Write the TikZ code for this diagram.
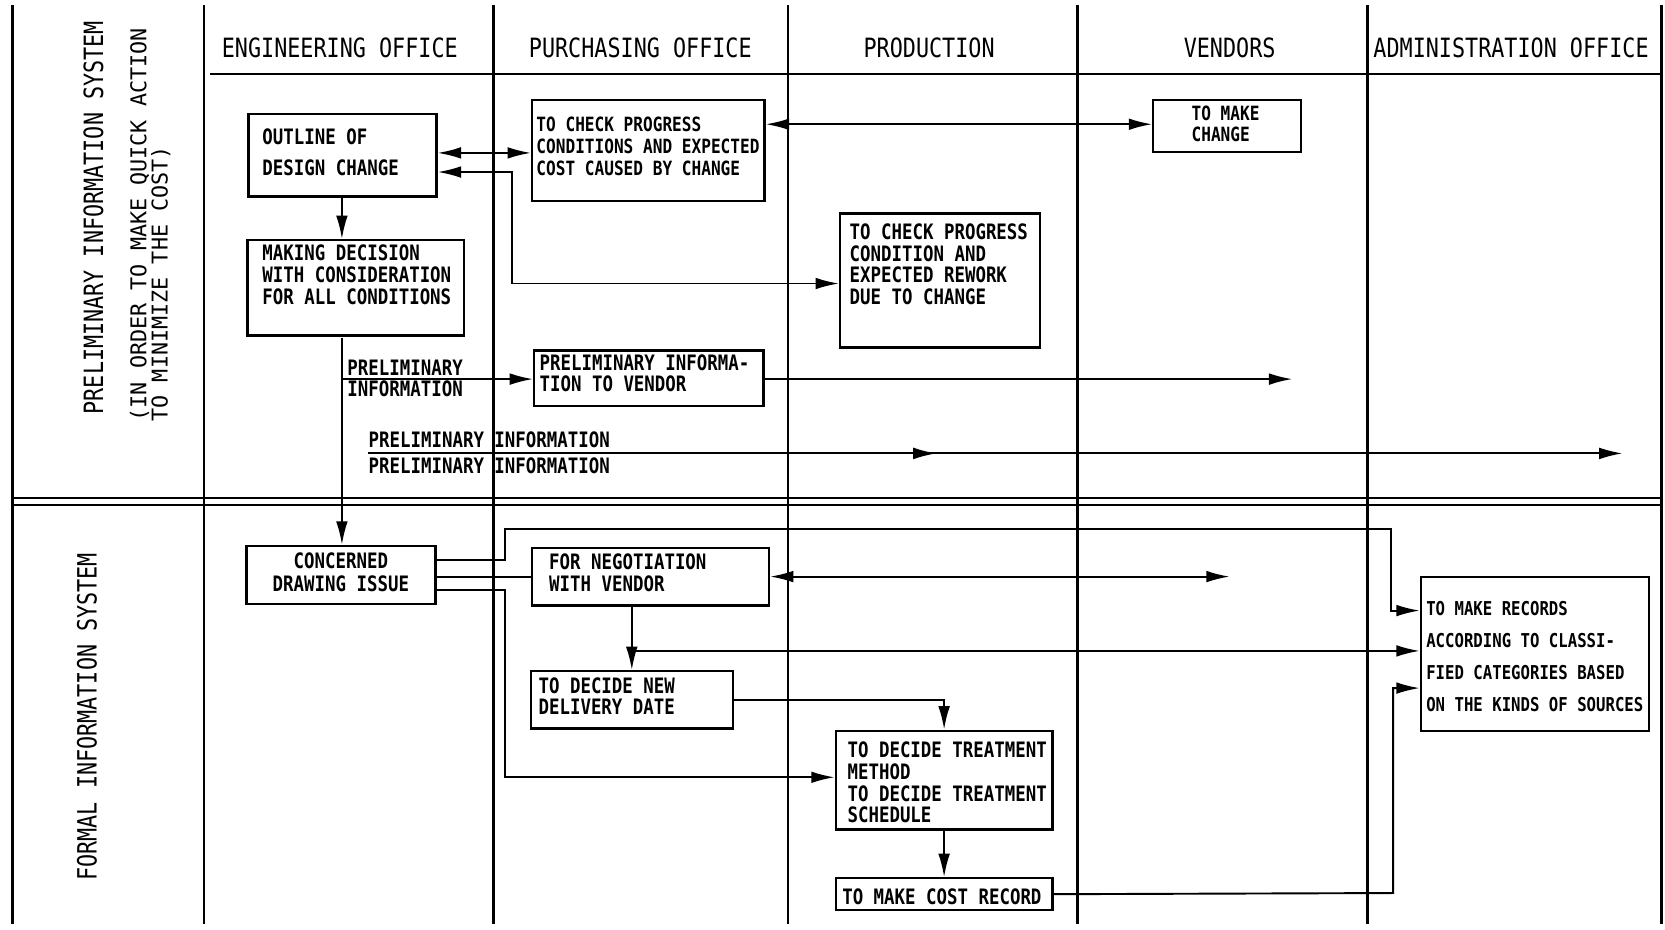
\documentclass[tikz,border=0pt]{standalone}
\usepackage{fontspec}
\newfontfamily\mf{DejaVu Sans Mono}[FakeStretch=0.82]
\newfontfamily\tw{DejaVu Sans Mono}
\usetikzlibrary{arrows.meta}
\begin{document}
\begin{tikzpicture}[x=1pt,y=-1pt,
  lane/.style={line width=2.6pt},
  rule/.style={line width=1.8pt},
  box/.style={draw, line width=2.2pt, rectangle, inner sep=0pt, anchor=north west},
  txt/.style={inner sep=0pt, anchor=north west, align=left, font=\mf\bfseries\fontsize{20}{20.3}\selectfont},
  txtsm/.style={txt, font=\mf\bfseries\fontsize{18.5}{20.5}\selectfont},
  head/.style={inner sep=0pt, font=\mf\fontsize{25}{25}\selectfont},
  conn/.style={line width=1.8pt},
  tip/.tip={Latex[length=22pt,width=11pt]},
  arr/.style={conn, -tip},
  darr/.style={conn, tip-tip}
]
\useasboundingbox (0,0) rectangle (1568,875);

% lanes and rules
\foreach \x in {12,192,465,742,1015,1288,1565} {\draw[lane] (\x,5) -- (\x,870);}
\draw[rule] (198,70) -- (1565,70);
\draw[rule] (12,469) -- (1565,469);
\draw[rule] (12,476) -- (1565,476);

% headers
\node[head] (h1) at (320,45) {ENGINEERING OFFICE};
\node[head] (h2) at (603,45) {PURCHASING OFFICE};
\node[head] (h3) at (875,45) {PRODUCTION};
\node[head] (h4) at (1158,45) {VENDORS};
\node[head] (h5) at (1423,45) {ADMINISTRATION OFFICE};

% left labels
\node[head, rotate=90] (l1) at (88,205) {PRELIMINARY INFORMATION SYSTEM};
\node[inner sep=0pt, rotate=90, anchor=north west, align=left,
      font=\tw\fontsize{20.5}{20}\selectfont] (l2) at (122,397)
      {(IN ORDER TO MAKE QUICK ACTION\\TO MINIMIZE THE COST)};
\node[head, rotate=90] (l3) at (82,675) {FORMAL INFORMATION SYSTEM};

% boxes
\node[box, minimum width=177pt, minimum height=78pt] (b1) at (233,106) {};
\node[box, minimum width=204pt, minimum height=90pt] (b2) at (232,225) {};
\node[box, minimum width=219pt, minimum height=95pt] (b3) at (500,93) {};
\node[box, minimum width=139pt, minimum height=49pt] (b4) at (1085,93) {};
\node[box, minimum width=188pt, minimum height=126pt] (b5) at (790,200) {};
\node[box, minimum width=216pt, minimum height=52pt] (b6) at (502,329) {};
\node[box, minimum width=178pt, minimum height=55pt] (b7) at (231,513) {};
\node[box, minimum width=223pt, minimum height=54pt] (b8) at (500,515) {};
\node[box, minimum width=190pt, minimum height=54pt] (b9) at (499,631) {};
\node[box, minimum width=204pt, minimum height=93pt] (b10) at (786,687) {};
\node[box, minimum width=204pt, minimum height=30pt] (b11) at (786,826) {};
\node[box, minimum width=215pt, minimum height=145pt] (b12) at (1337,542) {};

% box texts
\node[txt, font=\mf\bfseries\fontsize{20}{30}\selectfont] (t1) at (247,120.7) {OUTLINE OF\\DESIGN CHANGE};
\node[txt] (t2) at (247,230.7) {MAKING DECISION\\WITH CONSIDERATION\\FOR ALL CONDITIONS};
\node[txtsm] (t3) at (505,110.3) {TO CHECK PROGRESS\\CONDITIONS AND EXPECTED\\COST CAUSED BY CHANGE};
\node[txtsm, font=\mf\bfseries\fontsize{18.5}{20}\selectfont] (t4) at (1122,99.3) {TO MAKE\\CHANGE};
\node[txt] (t5) at (800,210.7) {TO CHECK PROGRESS\\CONDITION AND\\EXPECTED REWORK\\DUE TO CHANGE};
\node[txt] (t6) at (508,333.7) {PRELIMINARY INFORMA-\\TION TO VENDOR};
\node[txt, anchor=north, align=center, font=\mf\bfseries\fontsize{20}{21}\selectfont] (t7) at (321,520.7) {CONCERNED\\DRAWING ISSUE};
\node[txt] (t8) at (517,521.7) {FOR NEGOTIATION\\WITH VENDOR};
\node[txt] (t9) at (507,637.7) {TO DECIDE NEW\\DELIVERY DATE};
\node[txt] (t10) at (798,698.7) {TO DECIDE TREATMENT\\METHOD\\TO DECIDE TREATMENT\\SCHEDULE};
\node[txt] (t11) at (793,836.7) {TO MAKE COST RECORD};
\node[txt, font=\mf\bfseries\fontsize{18}{30}\selectfont] (t12) at (1343,566.4) {TO MAKE RECORDS\\ACCORDING TO CLASSI-\\FIED CATEGORIES BASED\\ON THE KINDS OF SOURCES};

% connector labels
\node[txt, font=\mf\bfseries\fontsize{20}{20}\selectfont] (p1) at (327,338.7) {PRELIMINARY\\INFORMATION};
\node[txt, font=\mf\bfseries\fontsize{20}{24}\selectfont] (p2) at (347,406.7) {PRELIMINARY INFORMATION\\PRELIMINARY INFORMATION};

% free ends
\coordinate (jp) at (322,357);
\coordinate (v1) at (1217,357);
\coordinate (ps) at (347,427);
\coordinate (pe1) at (882,427);
\coordinate (pe2) at (1528,427);
\coordinate (v2) at (1158,543);
\coordinate (jn) at (595,613);

% preliminary connectors
\draw[darr] (b1.east |- 0,144) -- (b3.west |- 0,144);
\draw[darr] (b1.east |- 0,162) -- (482,162) -- (482,267) -- (b5.west |- 0,267);
\draw[darr] (b3.east |- 0,117) -- (b4.west |- 0,117);
\draw[arr] (322,184) -- (322,225);
\draw[arr] (322,318) -- (322,513);
\draw[arr] (jp) -- (b6.west |- jp);
\draw[arr] (b6.east |- v1) -- (v1);
\draw[arr] (ps) -- (pe1);
\draw[arr] (ps) -- (pe2);

% formal connectors
\draw[arr] (b7.east |- 0,527) -- (476,527) -- (476,498) -- (1310,498) -- (1310,575) -- (b12.west |- 0,575);
\draw[conn] (b7.east |- 0,543) -- (b8.west |- 0,543);
\draw[arr] (b7.east |- 0,556) -- (476,556) -- (476,732) -- (b10.west |- 0,732);
\draw[darr] (b8.east |- v2) -- (v2);
\draw[arr] (b8.south -| jn) -- (b9.north -| jn);
\draw[arr] (jn) -- (b12.west |- jn);
\draw[arr] (b9.east |- 0,659) -| (b10.north);
\draw[arr] (b10.south) -- (b11.north);
\draw[arr] (b11.east) -- (1312,841) -- (1312,648) -- (b12.west |- 0,648);
\end{tikzpicture}
\end{document}
